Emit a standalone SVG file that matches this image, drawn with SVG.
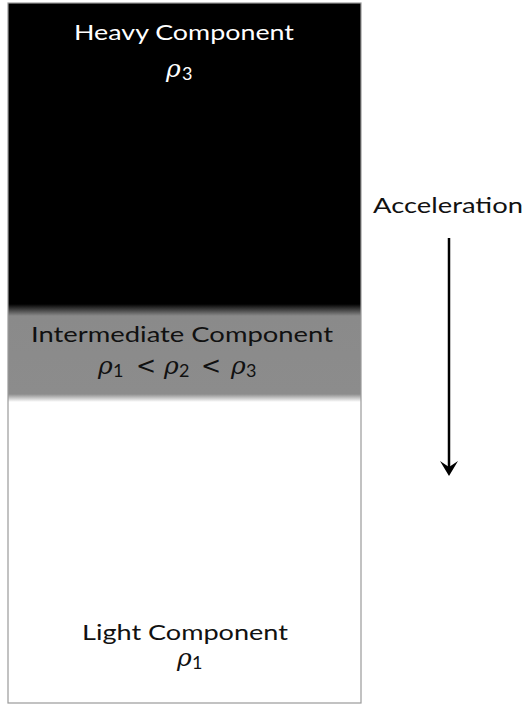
<svg xmlns="http://www.w3.org/2000/svg" width="525" height="707" viewBox="0 0 525 707">
  <style>
    .lbl { font-family: Lato, "Open Sans", "Liberation Sans", sans-serif; font-size: 22px; text-anchor: middle; }
    .math { font-family: "DejaVu Serif", "Liberation Serif", serif; font-size: 25px; }
    .rho { font-style: italic; }
    .sub { font-size: 18px; font-style: normal; font-family: Lato, "Liberation Sans", sans-serif; }
    .op { font-family: "DejaVu Sans", sans-serif; font-size: 24px; }
    .white { fill: #ffffff; }
    .dark { fill: #111111; }
  </style>
  <defs>
    <linearGradient id="layers" gradientUnits="userSpaceOnUse" x1="0" y1="3" x2="0" y2="703">
      <stop offset="0" stop-color="#000000"/>
      <stop offset="0.4300" stop-color="#000000"/>
      <stop offset="0.4471" stop-color="#8a8a8a"/>
      <stop offset="0.5586" stop-color="#8c8c8c"/>
      <stop offset="0.5700" stop-color="#ffffff"/>
      <stop offset="1" stop-color="#ffffff"/>
    </linearGradient>
  </defs>

  <!-- column of three stacked fluid layers -->
  <g id="column">
    <rect x="8" y="3" width="353" height="700" fill="url(#layers)" stroke="#9a9a9a" stroke-width="1.2"/>
  </g>

  <g id="heavy">
    <text class="lbl white" x="184" y="40" textLength="220" lengthAdjust="spacingAndGlyphs">Heavy Component</text>
    <text class="math white" y="77"><tspan class="rho" x="166">ρ</tspan><tspan class="sub" x="182" y="80">3</tspan></text>
  </g>

  <g id="intermediate">
    <text class="lbl dark" x="182" y="342" textLength="302" lengthAdjust="spacingAndGlyphs">Intermediate Component</text>
    <text class="math dark" y="374"><tspan class="rho" x="98">ρ</tspan><tspan class="sub" x="113" y="377">1</tspan><tspan class="op" x="136" y="374">&lt;</tspan><tspan class="rho" x="164">ρ</tspan><tspan class="sub" x="179" y="377">2</tspan><tspan class="op" x="201" y="374">&lt;</tspan><tspan class="rho" x="231">ρ</tspan><tspan class="sub" x="246" y="377">3</tspan></text>
  </g>

  <g id="light">
    <text class="lbl dark" x="185" y="640" textLength="206" lengthAdjust="spacingAndGlyphs">Light Component</text>
    <text class="math dark" y="666"><tspan class="rho" x="177">ρ</tspan><tspan class="sub" x="192" y="669">1</tspan></text>
  </g>

  <g id="acceleration">
    <text class="lbl dark" x="448" y="213" textLength="150" lengthAdjust="spacingAndGlyphs">Acceleration</text>
  </g>

  <g id="connectors">
    <line x1="449" y1="238" x2="449" y2="468" stroke="#000" stroke-width="2.5"/>
    <path d="M440,461 L449,476 L458,461 L449,467 Z" fill="#000"/>
  </g>
</svg>
